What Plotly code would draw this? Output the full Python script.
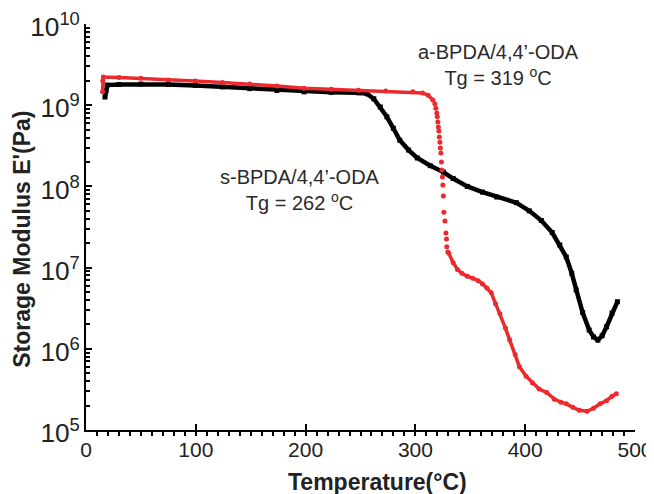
import plotly.graph_objects as go

# s-BPDA/4,4'-ODA (black)
s_T = [17.3, 18.3, 19.3, 30.2, 50.0, 74.8, 99.5, 124.3, 149.1, 173.9, 198.6, 223.4, 248.2,
       256.1, 262.1, 268.0, 274.0, 279.9, 285.8, 293.8, 301.7, 313.6, 325.5, 334.4, 347.3,
       361.1, 374.0, 391.9, 403.7, 414.7, 424.6, 431.5, 437.4, 442.4, 446.4, 452.3, 458.3,
       462.2, 466.2, 470.1, 474.1, 479.1, 484.0]
s_E = [1.26e9, 1.5e9, 1.77e9, 1.8e9, 1.82e9, 1.8e9, 1.75e9, 1.68e9, 1.6e9, 1.52e9, 1.46e9,
       1.44e9, 1.42e9, 1.38e9, 1.2e9, 9.5e8, 7.2e8, 5.2e8, 3.7e8, 2.8e8, 2.24e8, 1.8e8, 1.5e8,
       1.25e8, 1.0e8, 8.5e7, 7.4e7, 6.3e7, 5.0e7, 3.8e7, 2.7e7, 1.9e7, 1.35e7, 8.5e6, 5.3e6,
       2.8e6, 1.7e6, 1.4e6, 1.28e6, 1.45e6, 1.87e6, 2.76e6, 3.8e6]

# a-BPDA/4,4'-ODA (red)
a_T = [15.0, 15.3, 15.8, 30.2, 50.0, 74.8, 99.5, 124.3, 149.1, 173.9, 198.6, 223.4, 248.2,
       273.0, 297.7, 306.6, 311.6,
       315.9, 317.7, 318.6, 319.5, 319.9, 320.4, 320.9, 321.4, 321.8, 322.3, 322.7, 323.2,
       323.7, 324.1, 324.6, 325.0, 325.5, 325.9, 326.9, 327.8, 328.3, 328.6, 329.5,
       330.4, 334.4, 338.3, 342.3, 347.3, 352.2, 357.2, 361.1, 365.1, 369.1, 373.0, 377.0,
       382.0, 385.9, 390.9, 394.8, 400.8, 406.7, 412.7, 419.6, 426.5, 432.5, 437.4, 443.4,
       449.3, 456.3, 462.2, 468.2, 474.1, 479.1, 483.0]
a_E = [1.46e9, 2.0e9, 2.22e9, 2.2e9, 2.15e9, 2.05e9, 1.98e9, 1.9e9, 1.82e9, 1.72e9, 1.62e9,
       1.57e9, 1.53e9, 1.5e9, 1.46e9, 1.41e9, 1.33e9,
       1.16e9, 1.04e9, 9.2e8, 8.0e8, 7.2e8, 6.2e8, 5.4e8, 4.8e8, 4.06e8, 3.5e8, 2.97e8, 2.58e8,
       2.0e8, 1.59e8, 1.31e8, 1.04e8, 7.6e7, 4.8e7, 3.75e7, 2.67e7, 2.25e7, 1.8e7, 1.56e7,
       1.5e7, 1.15e7, 9.5e6, 8.5e6, 7.8e6, 7.4e6, 6.9e6, 6.3e6, 5.6e6, 4.9e6, 3.6e6, 2.7e6,
       1.8e6, 1.28e6, 8.5e5, 6.0e5, 4.6e5, 3.8e5, 3.2e5, 2.9e5, 2.4e5, 2.2e5, 2.1e5, 1.9e5,
       1.75e5, 1.7e5, 1.85e5, 2.1e5, 2.3e5, 2.6e5, 2.8e5]

x_tick_vals = [0, 100, 200, 300, 400, 500]

RED = "#ec2a2e"
FONT = "Liberation Sans, Arial, sans-serif"

# red line only on the dense parts (the steep drop is drawn as separate dots)
a_line = [e if (t <= 315.9 or t >= 329.5) else None for t, e in zip(a_T, a_E)]

fig = go.Figure()
fig.add_trace(go.Scatter(x=s_T, y=s_E, mode="lines+markers",
                         line=dict(color="black", width=4.5),
                         marker=dict(symbol="square", size=5, color="black"),
                         showlegend=False))
fig.add_trace(go.Scatter(x=a_T, y=a_line, mode="lines", connectgaps=False,
                         line=dict(color=RED, width=3.5), showlegend=False))
fig.add_trace(go.Scatter(x=a_T, y=a_E, mode="markers",
                         marker=dict(symbol="circle", size=5, color=RED),
                         showlegend=False))

fig.add_annotation(x=376, y=9.495, xref="x", yref="y", showarrow=False,
                   text="a-BPDA/4,4’-ODA<br>Tg = 319 <sup>o</sup>C",
                   font=dict(family=FONT, size=20, color="#2a2a2a"), align="center")
fig.add_annotation(x=195, y=7.956, xref="x", yref="y", showarrow=False,
                   text="s-BPDA/4,4’-ODA<br>Tg = 262 <sup>o</sup>C",
                   font=dict(family=FONT, size=20, color="#2a2a2a"), align="center")

# axis titles
fig.add_annotation(x=0.5318, y=-0.128, xref="paper", yref="paper", showarrow=False,
                   xanchor="center", yanchor="middle",
                   text="<b>Temperature(°C)</b>",
                   font=dict(family=FONT, size=23, color="#222"))
fig.add_annotation(x=-0.1155, y=0.47, xref="paper", yref="paper", showarrow=False,
                   xanchor="center", yanchor="middle", textangle=-90,
                   text="<b>Storage Modulus E'(Pa)</b>",
                   font=dict(family=FONT, size=23, color="#222"))

fig.update_layout(
    width=646, height=486,
    margin=dict(l=77.5, r=18.5, t=16, b=64),
    paper_bgcolor="white", plot_bgcolor="white",
    font=dict(family=FONT, color="#222"),
)
fig.update_xaxes(range=[0, 500], tickvals=x_tick_vals, showgrid=False, zeroline=False,
                 automargin=False, ticklabeloverflow="allow",
                 showline=True, linecolor="black", linewidth=2,
                 ticks="inside", ticklen=6, tickwidth=2, tickcolor="black",
                 minor=dict(ticks="outside", dtick=10, ticklen=4, tickwidth=1.5,
                            tickcolor="black", showgrid=False),
                 tickfont=dict(size=21, family=FONT, color="#222"))
fig.update_yaxes(type="log", range=[5, 10], tickmode="linear", tick0=0, dtick=1,
                 exponentformat="power", showexponent="all", ticklabelshift=3,
                 showgrid=False, zeroline=False, automargin=False, ticklabeloverflow="allow",
                 showline=True, linecolor="black", linewidth=2,
                 ticks="inside", ticklen=6, tickwidth=2, tickcolor="black",
                 minor=dict(ticks="inside", dtick="D1", ticklen=4, tickwidth=1.5, tickcolor="black",
                            showgrid=False),
                 tickfont=dict(size=21, family=FONT, color="#222"))

fig.write_html("out.html")
